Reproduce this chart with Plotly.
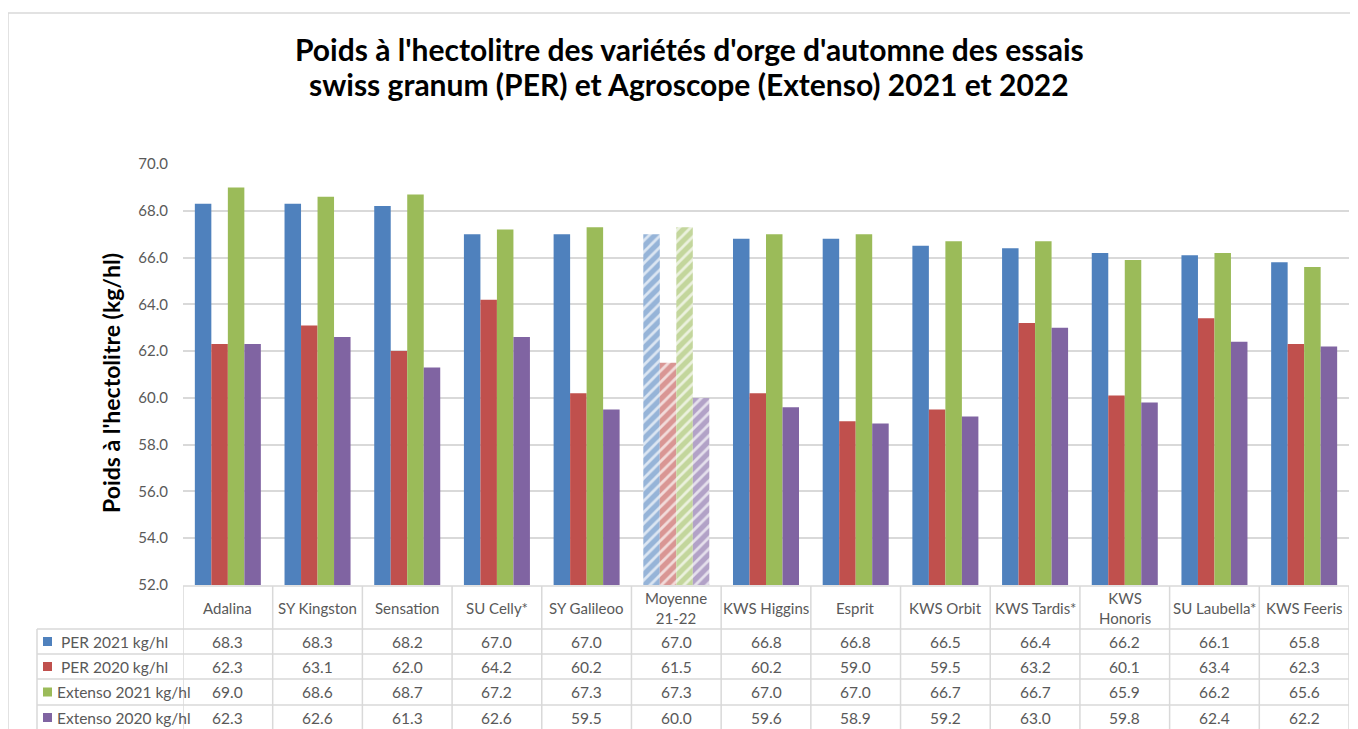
import plotly.graph_objects as go

categories = ["Adalina", "SY Kingston", "Sensation", "SU Celly*", "SY Galileoo",
              "Moyenne<br>21-22", "KWS Higgins", "Esprit", "KWS Orbit", "KWS Tardis*",
              "KWS<br>Honoris", "SU Laubella*", "KWS Feeris"]
per_2021 = [68.3, 68.3, 68.2, 67.0, 67.0, 67.0, 66.8, 66.8, 66.5, 66.4, 66.2, 66.1, 65.8]
per_2020 = [62.3, 63.1, 62.0, 64.2, 60.2, 61.5, 60.2, 59.0, 59.5, 63.2, 60.1, 63.4, 62.3]
ext_2021 = [69.0, 68.6, 68.7, 67.2, 67.3, 67.3, 67.0, 67.0, 66.7, 66.7, 65.9, 66.2, 65.6]
ext_2020 = [62.3, 62.6, 61.3, 62.6, 59.5, 60.0, 59.6, 58.9, 59.2, 63.0, 59.8, 62.4, 62.2]
series_names = [" PER 2021 kg/hl", " PER 2020 kg/hl", "Extenso 2021 kg/hl", "Extenso 2020 kg/hl"]
series_values = [per_2021, per_2020, ext_2021, ext_2020]
colors = ["#4F81BD", "#C0504D", "#9BBB59", "#8064A2"]
light = ["#DCE6F2", "#F2DCDB", "#EBF1DE", "#E5E0EC"]
hatched_category = "Moyenne<br>21-22"
title_lines = ["Poids à l'hectolitre des variétés d'orge d'automne des essais",
               "swiss granum (PER) et Agroscope (Extenso) 2021 et 2022"]
y_title = "Poids à l'hectolitre (kg/hl)"

# page offset (body margin) and screen-space plot box
OX, OY = 8, 8
SW, SH = 1358, 729
W, H = SW - OX, SH - OY
plot_left, plot_right, plot_top, plot_bottom = 183, 1349, 164, 585
L, R, T, B = plot_left - OX, SW - plot_right, plot_top - OY, SH - plot_bottom
pw, ph = W - L - R, H - T - B

def px_x(px):
    return (px - plot_left) / pw

def px_y(py):
    return (plot_bottom - py) / ph

grey = "#595959"
line_c = "#D9D9D9"
font_fam = "Lato"

fig = go.Figure()
for name, vals, c, lc in zip(series_names, series_values, colors, light):
    shapes = ["/" if cat == hatched_category else "" for cat in categories]
    fig.add_trace(go.Bar(
        x=categories, y=vals, name=name,
        marker=dict(color=c, line=dict(width=0),
                    pattern=dict(shape=shapes, fgcolor=c,
                                 bgcolor=[lc if s else c for s in shapes],
                                 size=8, solidity=0.65)),
        showlegend=False,
    ))

shapes_list = []
# outer chart border
shapes_list.append(dict(type="rect", xref="paper", yref="paper",
                        x0=px_x(8), x1=px_x(1375), y0=px_y(760), y1=px_y(13),
                        line=dict(color=line_c, width=1.5), layer="below"))
# table lines
row_lines = [586, 629, 654, 679, 705]
shapes_list.append(dict(type="line", xref="paper", yref="paper",
                        x0=0, x1=1, y0=px_y(586), y1=px_y(586),
                        line=dict(color=line_c, width=1.5)))
for ry in row_lines[1:]:
    shapes_list.append(dict(type="line", xref="paper", yref="paper",
                            x0=px_x(37), x1=1, y0=px_y(ry), y1=px_y(ry),
                            line=dict(color=line_c, width=1.5)))
shapes_list.append(dict(type="line", xref="paper", yref="paper",
                        x0=px_x(37), x1=px_x(37), y0=px_y(629), y1=px_y(735),
                        line=dict(color=line_c, width=1.5)))
n = len(categories)
for i in range(n + 1):
    shapes_list.append(dict(type="line", xref="x", yref="paper",
                            x0=i - 0.5, x1=i - 0.5, y0=px_y(586), y1=px_y(735),
                            line=dict(color=line_c, width=1.5)))

annotations = []
row_centers = [641.5, 666.5, 692, 717.5]
for name, vals, c, yc in zip(series_names, series_values, colors, row_centers):
    shapes_list.append(dict(type="rect", xref="paper", yref="paper",
                            x0=px_x(43), x1=px_x(52), y0=px_y(yc + 4.5), y1=px_y(yc - 4.5),
                            fillcolor=c, line=dict(width=0)))
    annotations.append(dict(text=name, xref="paper", yref="paper", x=px_x(55), y=px_y(yc),
                            xanchor="left", yanchor="middle", showarrow=False,
                            font=dict(size=15.5, color=grey, family=font_fam)))
    for cat, v in zip(categories, vals):
        annotations.append(dict(text=f"{v:.1f}", xref="x", yref="paper", x=cat, y=px_y(yc),
                                xanchor="center", yanchor="middle", showarrow=False,
                                font=dict(size=15.5, color=grey, family=font_fam)))
for cat in categories:
    annotations.append(dict(text=cat, xref="x", yref="paper", x=cat, y=px_y(607.5),
                            xanchor="center", yanchor="middle", showarrow=False,
                            font=dict(size=15, color=grey, family=font_fam)))

for line_text, yc in zip(title_lines, [48.5, 84.5]):
    annotations.append(dict(text=f"<b>{line_text}</b>",
                            xref="paper", yref="paper", x=px_x(689), y=px_y(yc),
                            xanchor="center", yanchor="middle", showarrow=False,
                            font=dict(size=30, color="#000000", family=font_fam)))
annotations.append(dict(text=f"<b>{y_title}</b>",
                        xref="paper", yref="paper", x=px_x(111), y=px_y(383),
                        xanchor="center", yanchor="middle", showarrow=False, textangle=-90,
                        font=dict(size=23, color="#000000", family=font_fam)))

fig.update_layout(
    width=W, height=H,
    margin=dict(l=L, r=R, t=T, b=B, pad=0),
    paper_bgcolor="white", plot_bgcolor="white",
    barmode="group", bargap=0.264, bargroupgap=0,
    shapes=shapes_list, annotations=annotations,
    font=dict(family=font_fam, color=grey),
    xaxis=dict(showticklabels=False, showgrid=False, zeroline=False, showline=False,
               ticks="", range=[-0.5, n - 0.5]),
    yaxis=dict(range=[52, 70], dtick=2, tickformat=".1f", showgrid=True,
               gridcolor=line_c, gridwidth=1.5, zeroline=False, showline=False,
               ticks="", ticklabelstandoff=14,
               tickfont=dict(size=15, color=grey, family=font_fam)),
)

fig.write_html("out.html")
